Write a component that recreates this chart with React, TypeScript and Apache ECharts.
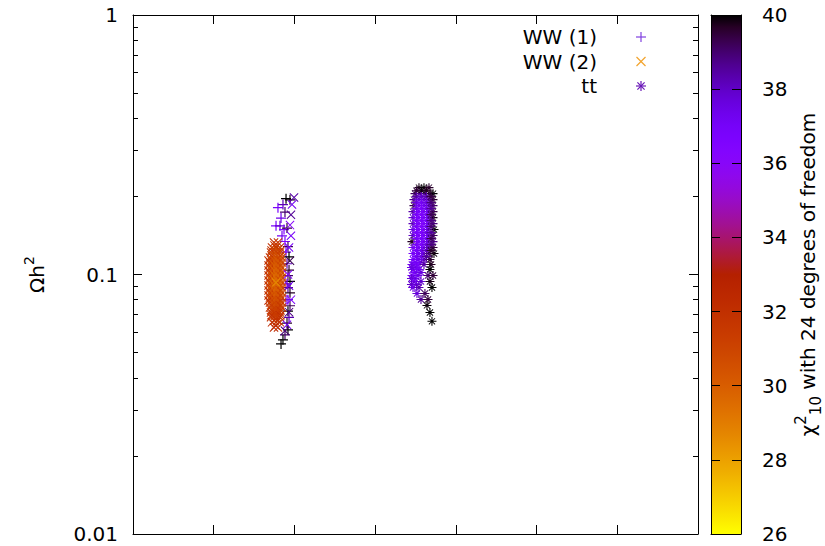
import React, { useEffect, useRef } from "react";
import * as echarts from "echarts";

const FONT = '"DejaVu Sans", sans-serif';
const INK = "#000000";

// Colour scale: chi^2_10 with 24 degrees of freedom
const chiMin = 26;
const chiMax = 40;
const chiStep = 2;

// Relic density axis (log scale)
const omegaMin = 0.01;
const omegaMax = 1;
const omegaMinorTicks = [
  0.02, 0.03, 0.04, 0.05, 0.06, 0.07, 0.08, 0.09,
  0.2, 0.3, 0.4, 0.5, 0.6, 0.7, 0.8, 0.9,
];

// Horizontal axis: unlabelled, ticks every 100
const massMin = 0;
const massMax = 700;
const massStep = 100;

const seriesNames = ["WW (1)", "WW (2)", "tt"];
const keyColors = ["#8040e0", "#f2a530", "#6a18b8"];

// Points as [x, Ωh², χ²]
const ww1Points: [number, number, number][] = [
  [194.5, 0.194, 39.8], [189.6, 0.196, 40.0], [185.8, 0.186, 38.2], [179.6, 0.181, 36.8],
  [188.3, 0.174, 39.0], [183.4, 0.165, 37.4], [177.2, 0.154, 36.9], [182.1, 0.154, 37.8],
  [187.1, 0.149, 36.4], [190.8, 0.151, 39.5], [184.6, 0.141, 37.1], [188.3, 0.134, 36.6],
  [192.0, 0.128, 39.2], [189.6, 0.122, 37.3], [193.3, 0.117, 40.0], [190.8, 0.110, 38.1],
  [193.3, 0.104, 39.6], [192.0, 0.099, 39.1], [194.5, 0.094, 40.0], [190.8, 0.092, 36.5],
  [192.0, 0.089, 38.6], [194.5, 0.085, 39.7], [192.0, 0.080, 37.6], [189.6, 0.080, 36.9],
  [194.5, 0.0758, 39.2], [192.0, 0.0722, 40.0], [193.3, 0.0683, 38.3], [190.8, 0.065, 39.6],
  [192.0, 0.0612, 40.0], [188.3, 0.0585, 39.1], [185.8, 0.056, 40.0], [183.4, 0.054, 40.0],
];

const ww2Points: [number, number, number][] = [
  // orange core
  [174.7, 0.1328, 32.1], [179.6, 0.1328, 31.8],
  [172.2, 0.127, 31.9], [177.2, 0.127, 31.3], [182.1, 0.127, 32.2],
  [171.0, 0.1215, 31.8], [174.7, 0.1215, 31.1], [178.4, 0.1215, 30.9], [182.1, 0.1215, 31.5],
  [169.7, 0.1162, 32.0], [173.4, 0.1162, 31.2], [177.2, 0.1162, 30.6], [180.9, 0.1162, 30.8], [184.6, 0.1162, 31.7],
  [169.7, 0.1112, 31.5], [173.4, 0.1112, 30.7], [177.2, 0.1112, 30.2], [180.9, 0.1112, 30.5], [184.6, 0.1112, 31.3],
  [169.7, 0.1064, 31.9], [173.4, 0.1064, 30.4], [177.2, 0.1064, 29.9], [180.9, 0.1064, 30.3], [184.6, 0.1064, 31.2],
  [169.7, 0.1018, 31.6], [173.4, 0.1018, 30.5], [177.2, 0.1018, 29.6], [180.9, 0.1018, 30.1], [184.6, 0.1018, 31.4],
  [169.7, 0.0974, 31.3], [173.4, 0.0974, 30.1], [177.2, 0.0974, 29.3], [180.9, 0.0974, 30.0], [184.6, 0.0974, 31.0],
  [169.7, 0.0932, 31.7], [173.4, 0.0932, 30.2], [180.9, 0.0932, 29.8], [184.6, 0.0932, 31.1],
  [169.7, 0.0891, 31.4], [173.4, 0.0891, 30.3], [177.2, 0.0891, 29.5], [180.9, 0.0891, 30.2], [184.6, 0.0891, 31.3],
  [169.7, 0.0853, 31.8], [173.4, 0.0853, 30.6], [177.2, 0.0853, 29.8], [180.9, 0.0853, 30.4], [184.6, 0.0853, 30.9],
  [169.7, 0.0816, 31.5], [173.4, 0.0816, 30.8], [177.2, 0.0816, 30.1], [180.9, 0.0816, 30.7], [184.6, 0.0816, 31.5],
  [169.7, 0.078, 32.0], [173.4, 0.078, 30.9], [177.2, 0.078, 30.4], [180.9, 0.078, 30.9], [184.6, 0.078, 31.6],
  [169.7, 0.0746, 31.7], [173.4, 0.0746, 31.2], [177.2, 0.0746, 30.7], [180.9, 0.0746, 31.1], [184.6, 0.0746, 31.8],
  [171.0, 0.0714, 32.1], [174.7, 0.0714, 31.4], [178.4, 0.0714, 31.0], [182.1, 0.0714, 31.5],
  [171.0, 0.0684, 31.8], [174.7, 0.0684, 31.6], [178.4, 0.0684, 31.3], [182.1, 0.0684, 31.9],
  [172.2, 0.0654, 32.3], [177.2, 0.0654, 31.7], [182.1, 0.0654, 32.1],
  [174.7, 0.0625, 32.5], [179.6, 0.0625, 32.2],
  [175.3, 0.1293, 31.6], [179.0, 0.1293, 31.4],
  [171.6, 0.1237, 31.7], [175.3, 0.1237, 31.0], [179.0, 0.1237, 30.8], [182.7, 0.1237, 31.6],
  [171.6, 0.1183, 31.2], [175.3, 0.1183, 30.6], [179.0, 0.1183, 30.5], [182.7, 0.1183, 31.3],
  [167.9, 0.1132, 32.0], [171.6, 0.1132, 30.9], [175.3, 0.1132, 30.3], [179.0, 0.1132, 30.2], [182.7, 0.1132, 31.0],
  [167.9, 0.1083, 31.8], [171.6, 0.1083, 30.7], [175.3, 0.1083, 30.0], [179.0, 0.1083, 30.1], [182.7, 0.1083, 30.9],
  [167.9, 0.1036, 31.9], [171.6, 0.1036, 30.6], [175.3, 0.1036, 29.8], [179.0, 0.1036, 29.9], [182.7, 0.1036, 30.8],
  [167.9, 0.0991, 31.6], [171.6, 0.0991, 30.4], [175.3, 0.0991, 29.6], [179.0, 0.0991, 29.7], [182.7, 0.0991, 30.6],
  [167.9, 0.0948, 31.7], [171.6, 0.0948, 30.3], [175.3, 0.0948, 29.4], [179.0, 0.0948, 29.5], [182.7, 0.0948, 30.7],
  [167.9, 0.0907, 31.5], [171.6, 0.0907, 30.5], [175.3, 0.0907, 29.5], [179.0, 0.0907, 29.6], [182.7, 0.0907, 30.9],
  [167.9, 0.0868, 31.8], [171.6, 0.0868, 30.6], [175.3, 0.0868, 29.9], [179.0, 0.0868, 30.0], [182.7, 0.0868, 31.0],
  [167.9, 0.083, 31.6], [171.6, 0.083, 30.8], [175.3, 0.083, 30.2], [179.0, 0.083, 30.3], [182.7, 0.083, 31.2],
  [167.9, 0.0794, 32.1], [171.6, 0.0794, 31.0], [175.3, 0.0794, 30.5], [179.0, 0.0794, 30.6], [182.7, 0.0794, 31.3],
  [171.6, 0.076, 31.3], [175.3, 0.076, 30.8], [179.0, 0.076, 30.9], [182.7, 0.076, 31.5],
  [171.6, 0.0727, 31.5], [175.3, 0.0727, 31.1], [179.0, 0.0727, 31.2], [182.7, 0.0727, 31.7],
  [171.6, 0.0696, 31.9], [175.3, 0.0696, 31.4], [179.0, 0.0696, 31.5], [182.7, 0.0696, 32.0],
  [175.3, 0.0665, 31.7], [179.0, 0.0665, 31.8],
  [176.6, 0.0636, 32.2],
  // best point
  [177.2, 0.0932, 28.6],
  // high-χ² column
  [199.5, 0.198, 38.4], [197.0, 0.186, 37.2], [195.7, 0.17, 38.6], [194.5, 0.155, 36.2],
  [195.7, 0.141, 37.0], [193.3, 0.127, 36.8], [194.5, 0.113, 39.3], [192.0, 0.1, 36.4],
  [193.3, 0.0905, 37.5], [195.7, 0.08, 36.6], [193.3, 0.0716, 38.8], [190.8, 0.064, 37.1],
  [188.3, 0.0607, 39.0],
];

const ttPoints: [number, number, number][] = [
  [354.3, 0.2161, 39.8], [360.5, 0.2161, 40.0], [366.7, 0.2161, 39.6],
  [349.4, 0.2049, 39.2], [355.6, 0.2049, 38.6], [361.7, 0.2049, 38.9], [367.9, 0.2049, 39.7], [371.7, 0.2049, 40.0],
  [348.1, 0.1943, 38.8], [354.3, 0.1943, 37.4], [360.5, 0.1943, 37.8], [366.7, 0.1943, 38.5], [371.7, 0.1943, 39.6],
  [348.1, 0.1842, 39.3], [354.3, 0.1842, 37.0], [360.5, 0.1842, 37.2], [366.7, 0.1842, 38.0], [371.7, 0.1842, 39.1],
  [346.9, 0.1747, 38.4], [353.1, 0.1747, 36.8], [359.3, 0.1747, 36.9], [365.5, 0.1747, 37.6], [371.7, 0.1747, 39.4],
  [346.9, 0.1657, 37.9], [353.1, 0.1657, 36.6], [359.3, 0.1657, 36.7], [365.5, 0.1657, 37.8], [371.7, 0.1657, 39.8],
  [346.9, 0.1571, 38.2], [353.1, 0.1571, 36.9], [359.3, 0.1571, 36.5], [365.5, 0.1571, 37.3], [371.7, 0.1571, 38.9],
  [346.9, 0.149, 37.6], [353.1, 0.149, 36.7], [359.3, 0.149, 36.8], [365.5, 0.149, 37.9], [372.9, 0.149, 40.0],
  [346.9, 0.1413, 38.0], [353.1, 0.1413, 36.5], [359.3, 0.1413, 36.6], [365.5, 0.1413, 37.4], [371.7, 0.1413, 39.2],
  [345.6, 0.1339, 39.7], [353.1, 0.1339, 36.8], [359.3, 0.1339, 37.0], [365.5, 0.1339, 37.7], [371.7, 0.1339, 38.7],
  [346.9, 0.127, 37.3], [353.1, 0.127, 36.6], [359.3, 0.127, 37.1], [365.5, 0.127, 38.2], [371.7, 0.127, 39.5],
  [346.9, 0.1204, 37.0], [353.1, 0.1204, 36.9], [359.3, 0.1204, 37.5], [366.7, 0.1204, 39.0], [372.9, 0.1204, 39.9],
  [346.9, 0.1142, 36.8], [353.1, 0.1142, 37.2], [360.5, 0.1142, 38.0], [367.9, 0.1142, 39.6],
  [357.4, 0.2104, 39.9], [363.6, 0.2104, 39.7], [351.2, 0.2104, 39.5],
  [351.2, 0.1995, 38.4], [357.4, 0.1995, 37.9], [363.6, 0.1995, 38.2], [369.2, 0.1995, 39.4],
  [351.2, 0.1892, 37.6], [357.4, 0.1892, 37.1], [363.6, 0.1892, 37.5], [369.2, 0.1892, 38.9],
  [351.2, 0.1794, 37.2], [357.4, 0.1794, 36.8], [363.6, 0.1794, 37.3], [369.2, 0.1794, 38.6],
  [351.2, 0.1701, 37.0], [357.4, 0.1701, 36.6], [363.6, 0.1701, 37.1], [369.2, 0.1701, 39.2],
  [351.2, 0.1613, 36.8], [357.4, 0.1613, 36.7], [363.6, 0.1613, 37.0], [369.2, 0.1613, 38.8],
  [351.2, 0.153, 36.9], [357.4, 0.153, 36.5], [363.6, 0.153, 37.2], [369.2, 0.153, 39.0],
  [351.2, 0.145, 36.7], [357.4, 0.145, 36.6], [363.6, 0.145, 37.4], [369.2, 0.145, 38.5],
  [351.2, 0.1375, 36.8], [357.4, 0.1375, 36.9], [363.6, 0.1375, 37.2], [369.2, 0.1375, 39.3],
  [351.2, 0.1304, 37.0], [357.4, 0.1304, 36.7], [363.6, 0.1304, 37.6], [369.2, 0.1304, 38.8],
  [351.2, 0.1237, 36.9], [357.4, 0.1237, 37.3], [363.6, 0.1237, 38.1], [369.2, 0.1237, 39.6],
  [351.2, 0.1173, 37.1], [357.4, 0.1173, 37.5], [363.6, 0.1173, 38.6],
  [349.4, 0.1112, 37.0], [355.6, 0.1112, 37.4],
  [345.6, 0.1093, 37.3], [351.8, 0.1093, 36.9], [360.5, 0.1093, 38.4], [369.2, 0.1093, 39.7],
  [351.2, 0.1064, 37.2], [345.0, 0.1064, 37.5],
  [346.9, 0.1045, 37.6], [354.3, 0.1045, 37.1], [367.9, 0.1045, 40.0],
  [349.4, 0.1018, 37.1], [356.8, 0.1018, 37.6],
  [345.6, 0.0991, 36.8], [353.1, 0.0991, 37.4], [365.5, 0.0991, 39.0], [371.7, 0.0991, 39.5],
  [349.4, 0.0965, 37.3], [345.0, 0.0965, 37.8],
  [348.1, 0.094, 37.2], [356.8, 0.094, 37.9], [367.9, 0.094, 39.8],
  [351.2, 0.0915, 37.6], [345.0, 0.0915, 38.0],
  [346.9, 0.0891, 37.5], [354.3, 0.0891, 38.3], [370.4, 0.0891, 40.0],
  [351.8, 0.0845, 37.7], [361.7, 0.0845, 39.2],
  [356.8, 0.0801, 38.6], [365.5, 0.0801, 39.5],
  [364.2, 0.076, 39.9],
  [367.9, 0.0714, 40.0],
  [370.4, 0.066, 40.0],
];

// Point shapes drawn as thin filled bars in a 10x10 box
const PLUS = "path://M0,4.4H10V5.6H0Z M4.4,0H5.6V10H4.4Z";
const CROSS = "path://M0,0.8L0.8,0L10,9.2L9.2,10Z M9.2,0L10,0.8L0.8,10L0,9.2Z";
const STAR =
  "path://M0,4.4H10V5.6H0Z M4.4,0H5.6V10H4.4Z M1.2,1.9L1.9,1.2L8.8,8.1L8.1,8.8Z M8.1,1.2L8.8,1.9L1.9,8.8L1.2,8.1Z";

// gnuplot rgbformulae 7,5,15 (sqrt, cube, sin 2πx)
function gnuplotColor(g: number): string {
  const c = (v: number) => Math.round(Math.min(1, Math.max(0, v)) * 255);
  const r = Math.sqrt(g);
  const gg = g * g * g;
  const b = Math.max(0, Math.sin(2 * Math.PI * g));
  return `rgb(${c(r)},${c(gg)},${c(b)})`;
}
const PAL_STEPS = 42;
// low χ² bright, high χ² dark (negative palette)
const paletteLowToHigh = Array.from({ length: PAL_STEPS + 1 }, (_, i) => gnuplotColor(1 - i / PAL_STEPS));
const paletteStops = Array.from({ length: PAL_STEPS + 1 }, (_, i) => ({
  offset: i / PAL_STEPS,
  color: gnuplotColor(i / PAL_STEPS),
}));

const keyStrokes: number[][][] = [
  [[-5, 0, 5, 0], [0, -5, 0, 5]],
  [[-4.5, -4.5, 4.5, 4.5], [-4.5, 4.5, 4.5, -4.5]],
  [[-5, 0, 5, 0], [0, -5, 0, 5], [-3.6, -3.6, 3.6, 3.6], [-3.6, 3.6, 3.6, -3.6]],
];

export default function App() {
  const ref = useRef<HTMLDivElement>(null);

  useEffect(() => {
    document.body.style.margin = "0";
    if (!ref.current) return;
    const chart = echarts.init(ref.current, undefined, { renderer: "svg" });

    const plotTicks = (position: string) => ({
      gridIndex: 0,
      type: "value",
      min: massMin,
      max: massMax,
      interval: massStep,
      position,
      axisLine: { show: true, onZero: false, lineStyle: { color: INK, width: 1 } },
      axisTick: { show: true, inside: true, length: 9, lineStyle: { color: INK, width: 1 } },
      axisLabel: { show: false },
      splitLine: { show: false },
    });

    const logAxis = (position: string, minor: boolean, labels: boolean) => ({
      gridIndex: 0,
      type: "log",
      logBase: 10,
      min: omegaMin,
      max: omegaMax,
      position,
      axisLine: { show: !minor, onZero: false, lineStyle: { color: INK, width: 1 } },
      axisTick: minor
        ? { show: true, inside: true, length: 5, customValues: omegaMinorTicks, lineStyle: { color: INK, width: 1 } }
        : { show: true, inside: true, length: 9, lineStyle: { color: INK, width: 1 } },
      axisLabel: labels
        ? { show: true, margin: 15, fontSize: 20, color: INK, fontFamily: FONT }
        : { show: false },
      splitLine: { show: false },
    });

    const barFrame = (position: string) => ({
      gridIndex: 1,
      type: "value",
      min: 0,
      max: 1,
      position,
      axisLine: { show: true, onZero: false, lineStyle: { color: INK, width: 1 } },
      axisTick: { show: false },
      axisLabel: { show: false },
      splitLine: { show: false },
    });

    const keyGraphics: any[] = [];
    seriesNames.forEach((name, i) => {
      const y = 37 + i * 24.5;
      keyGraphics.push({
        type: "text",
        silent: true,
        style: {
          text: name,
          x: 597,
          y,
          textAlign: "right",
          textVerticalAlign: "middle",
          fontSize: 20,
          fontFamily: FONT,
          fill: INK,
        },
      });
      keyStrokes[i].forEach((s) => {
        keyGraphics.push({
          type: "line",
          silent: true,
          shape: { x1: 641 + s[0], y1: y + s[1], x2: 641 + s[2], y2: y + s[3] },
          style: { stroke: keyColors[i], lineWidth: 1.2 },
        });
      });
    });

    const scatter = (name: string, data: number[][], symbol: string, size: number) => ({
      type: "scatter",
      name,
      xAxisIndex: 0,
      yAxisIndex: 0,
      data,
      symbol,
      symbolSize: size,
      silent: true,
      itemStyle: { opacity: 1 },
      emphasis: { disabled: true },
    });

    chart.setOption({
      animation: false,
      backgroundColor: "#ffffff",
      textStyle: { fontFamily: FONT },
      grid: [
        { left: 133, top: 15, width: 565, height: 519 },
        { left: 711, top: 15, width: 30, height: 519 },
      ],
      xAxis: [plotTicks("bottom"), plotTicks("top"), barFrame("bottom"), barFrame("top")],
      yAxis: [
        {
          ...logAxis("left", false, true),
          name: "{m|Ωh}{s|2}",
          nameLocation: "middle",
          nameRotate: 90,
          nameGap: 81,
          nameTextStyle: {
            rich: {
              m: { fontSize: 20, lineHeight: 30, fontFamily: FONT, color: INK },
              s: { fontSize: 14, lineHeight: 14, fontFamily: FONT, color: INK, verticalAlign: "top" },
            },
          },
        },
        logAxis("right", false, false),
        logAxis("left", true, false),
        logAxis("right", true, false),
        {
          gridIndex: 1,
          type: "value",
          min: chiMin,
          max: chiMax,
          interval: chiStep,
          position: "right",
          axisLine: { show: true, onZero: false, lineStyle: { color: INK, width: 1 } },
          axisTick: { show: true, inside: true, length: 9, lineStyle: { color: INK, width: 1 } },
          axisLabel: { show: true, margin: 21, fontSize: 20, color: INK, fontFamily: FONT },
          splitLine: { show: false },
          name: "{m|χ}{sp|2}{sb|10}{m| with 24 degrees of freedom}",
          nameLocation: "middle",
          nameRotate: 90,
          nameGap: 52,
          nameTextStyle: {
            rich: {
              m: { fontSize: 20, lineHeight: 30, fontFamily: FONT, color: INK },
              sp: { fontSize: 15, lineHeight: 15, fontFamily: FONT, color: INK, verticalAlign: "top" },
              sb: { fontSize: 15, lineHeight: 15, fontFamily: FONT, color: INK, verticalAlign: "bottom" },
            },
          },
        },
        {
          gridIndex: 1,
          type: "value",
          min: chiMin,
          max: chiMax,
          interval: chiStep,
          position: "left",
          axisLine: { show: true, onZero: false, lineStyle: { color: INK, width: 1 } },
          axisTick: { show: true, inside: true, length: 9, lineStyle: { color: INK, width: 1 } },
          axisLabel: { show: false },
          splitLine: { show: false },
        },
      ],
      visualMap: {
        type: "continuous",
        show: false,
        min: chiMin,
        max: chiMax,
        dimension: 2,
        seriesIndex: [0, 1, 2],
        inRange: { color: paletteLowToHigh },
      },
      graphic: [
        {
          type: "rect",
          z: -1,
          silent: true,
          shape: { x: 711, y: 15, width: 30, height: 519 },
          style: { fill: new echarts.graphic.LinearGradient(0, 0, 0, 1, paletteStops) },
        },
        ...keyGraphics,
      ],
      series: [
        scatter(seriesNames[0], ww1Points, PLUS, 10),
        scatter(seriesNames[1], ww2Points, CROSS, 9),
        scatter(seriesNames[2], ttPoints, STAR, 9),
      ],
    });

    return () => chart.dispose();
  }, []);

  return <div ref={ref} style={{ width: 825, height: 546 }} />;
}
